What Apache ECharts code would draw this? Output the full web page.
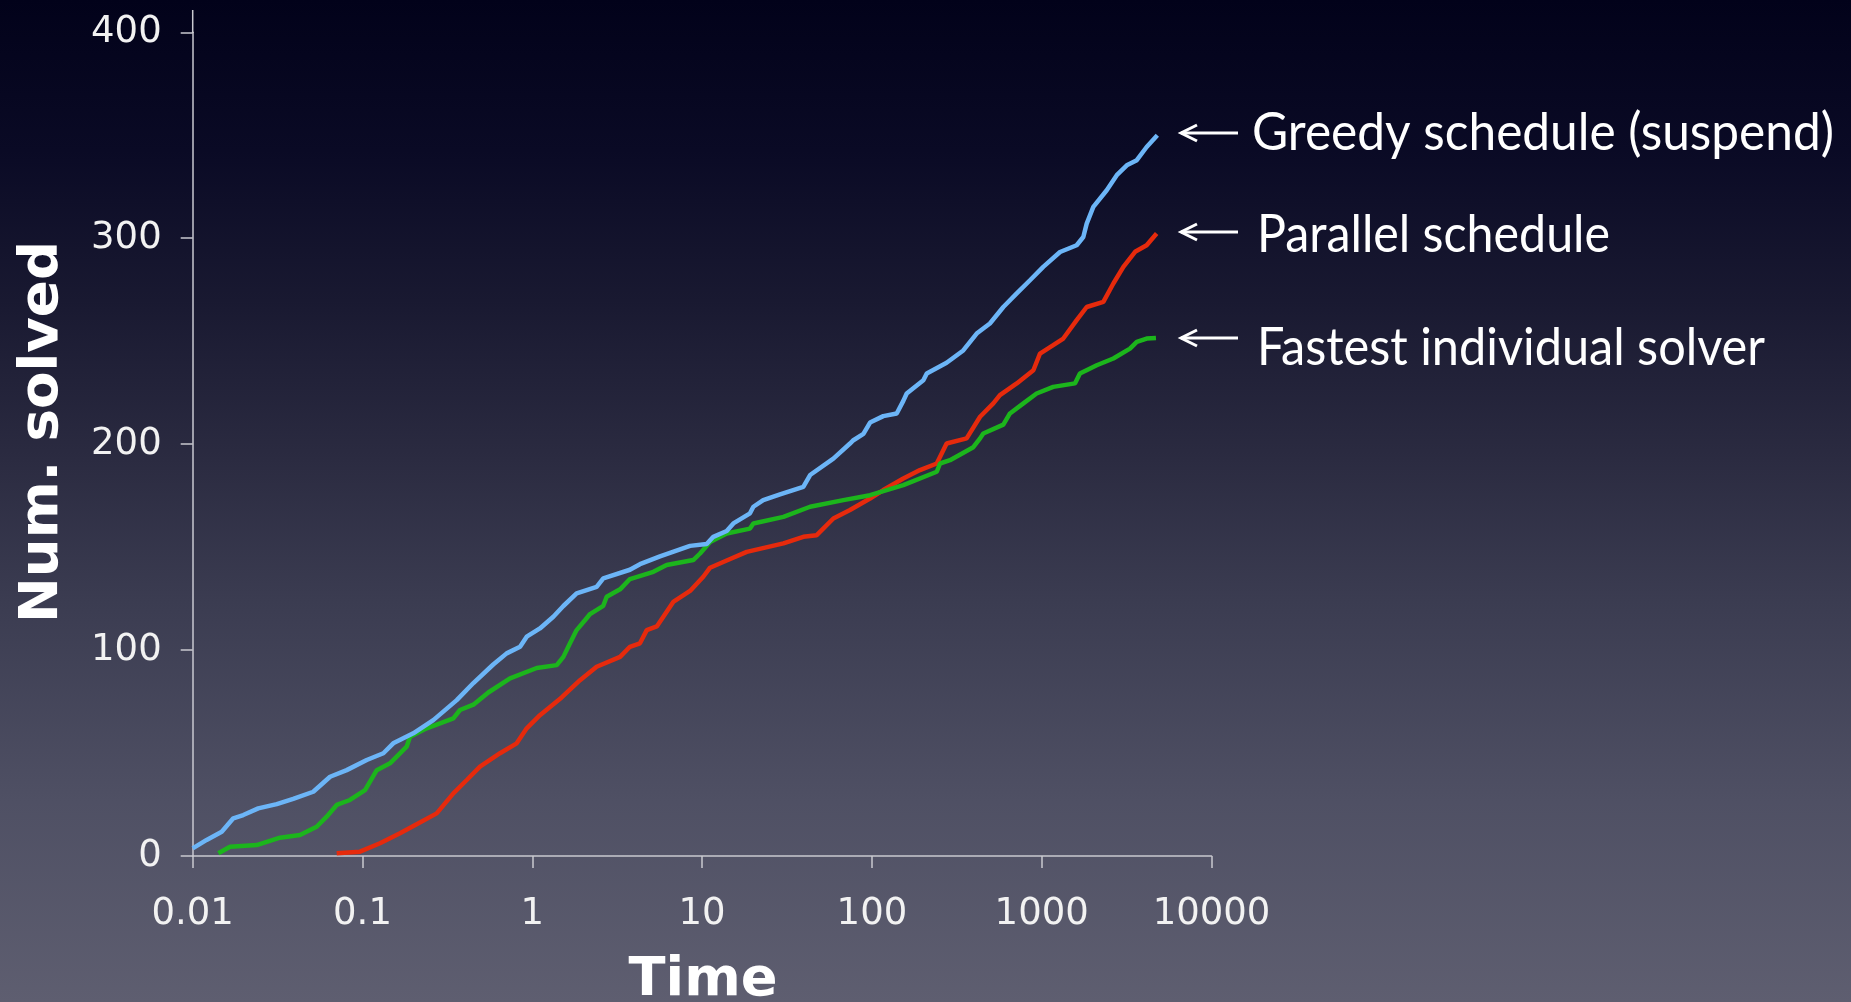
<!DOCTYPE html>
<html>
<head>
<meta charset="utf-8">
<script src="https://cdn.jsdelivr.net/npm/echarts@6/dist/echarts.min.js"></script>
<style>
html,body{margin:0;padding:0;width:1851px;height:1002px;overflow:hidden;background:#2a2a40;}
#chart{width:1851px;height:1002px;}
</style>
</head>
<body>
<div id="chart"></div>
<script>
// ---- data (time in seconds, number solved) ----
const xTickLabels = ['0.01', '0.1', '1', '10', '100', '1000', '10000'];
const yTickLabels = ['0', '100', '200', '300', '400'];
const seriesNames = ['Greedy schedule (suspend)', 'Parallel schedule', 'Fastest individual solver'];

const greedyT = [0.0100, 0.01208, 0.01483, 0.01734, 0.01986, 0.02432, 0.03126, 0.03908, 0.05129, 0.06442,
  0.08072, 0.1059, 0.1327, 0.1517, 0.1991, 0.2612, 0.3589, 0.4498, 0.5888, 0.7063,
  0.8472, 0.9268, 1.109, 1.330, 1.524, 1.824, 2.393, 2.618, 3.758, 4.305,
  5.649, 8.492, 10.64, 11.64, 13.96, 15.28, 19.14, 20.04, 22.91, 28.77,
  39.45, 43.25, 59.29, 74.30, 77.80, 89.13, 97.50, 116.7, 140.0, 153.1,
  160.3, 200.9, 210.4, 275.4, 345.1, 414.0, 495.5, 594.3, 712.8, 853.1,
  1021, 1282, 1607, 1758, 1841, 2014, 2415, 2767, 3170, 3631, 4150, 4797];
const greedyN = [3.7, 7.8, 11.8, 18.3, 19.9, 23.1, 25.2, 27.7, 31.2, 38.5,
  41.7, 46.6, 49.9, 54.7, 59.6, 66.0, 75.7, 84.0, 93.0, 98.4,
  101.6, 106.5, 110.5, 116.2, 121.4, 127.5, 130.7, 134.8, 139.0, 141.7,
  145.5, 150.6, 151.5, 155.0, 157.8, 161.5, 166.4, 169.6, 172.8, 175.6,
  179.3, 185.0, 193.0, 200.3, 201.9, 205.0, 210.5, 213.6, 214.9, 221.0,
  224.6, 231.0, 234.3, 239.5, 245.5, 253.7, 258.6, 266.6, 273.2, 279.6,
  286.1, 293.3, 296.6, 300.6, 307.1, 315.2, 323.3, 330.6, 335.4, 337.9, 344.3, 350.0];

const parallelT = [0.07047, 0.09661, 0.1268, 0.1663, 0.2084, 0.2735, 0.3428, 0.4111, 0.4920, 0.6457,
  0.8091, 0.9268, 1.109, 1.489, 1.910, 2.393, 3.289, 3.758, 4.305, 4.721,
  5.408, 6.761, 8.492, 10.16, 11.14, 13.96, 18.32, 30.13, 39.45, 47.32,
  59.29, 74.30, 97.50, 116.7, 153.1, 191.9, 241.0, 275.4, 361.4, 433.5,
  518.8, 567.5, 712.8, 893.3, 977.2, 1169, 1340, 1607, 1841, 2307,
  2642, 3027, 3548, 4150, 4753];
const parallelN = [1.3, 2.1, 6.2, 11.0, 15.4, 20.7, 30.4, 36.9, 43.4, 49.9,
  54.7, 62.0, 68.4, 77.0, 85.4, 91.9, 96.7, 101.6, 103.3, 109.7,
  111.5, 123.4, 128.7, 135.6, 140.0, 143.5, 147.7, 151.8, 155.0, 155.8,
  163.9, 168.0, 173.6, 177.7, 183.3, 187.4, 190.6, 200.3, 202.8, 213.3,
  219.8, 223.8, 229.5, 235.9, 244.0, 248.1, 251.3, 260.2, 266.6, 269.1,
  278.0, 286.1, 293.4, 296.6, 302.3];

const fastestT = [0.01416, 0.01660, 0.02382, 0.03266, 0.04285, 0.05370, 0.06152, 0.07047, 0.08433, 0.1035,
  0.1213, 0.1452, 0.1820, 0.1905, 0.2388, 0.3428, 0.3750, 0.4498, 0.5508, 0.7396,
  1.062, 1.393, 1.524, 1.667, 1.824, 2.042, 2.188, 2.618, 2.742, 3.289,
  3.758, 5.164, 6.180, 8.872, 9.727, 11.14, 13.96, 19.14, 20.04, 30.13,
  43.25, 67.92, 97.50, 153.1, 241.0, 251.8, 288.4, 395.4, 433.5, 452.9,
  594.3, 650.1, 779.8, 933.3, 1169, 1570, 1679, 2109, 2642, 3311,
  3631, 4150, 4710];
const fastestN = [1.3, 4.5, 5.3, 8.9, 10.2, 14.2, 19.1, 24.8, 27.2, 32.0,
  41.7, 45.0, 53.1, 57.9, 62.0, 66.8, 70.9, 73.5, 79.4, 86.3,
  91.3, 92.7, 96.7, 103.3, 109.7, 114.5, 117.5, 121.5, 125.9, 129.5,
  134.5, 138.0, 141.3, 143.7, 146.9, 152.5, 156.6, 159.0, 161.5, 164.7,
  169.6, 172.8, 175.2, 180.1, 186.6, 190.6, 192.2, 198.5, 202.8, 205.2,
  209.5, 214.9, 219.8, 224.6, 227.8, 229.5, 234.3, 238.3, 241.6, 246.4,
  249.7, 251.3, 251.6];

const pairs = (t, n) => t.map((v, i) => [v, n[i]]);

// ---- text fitting helper ----
const mctx = document.createElement('canvas').getContext('2d');
function fit(text, weight, size, family, target) {
  mctx.font = weight + ' ' + size + 'px ' + family;
  return target / mctx.measureText(text).width;
}

const LBL_FONT = 'Lato';
const LBL_SIZE = 52;
const labelLeft = [1252, 1257, 1257];
const labelTargets = [582, 353, 508];
const labelBaselines = [148, 250, 363];
const arrowY = [133, 232, 338];

const chart = echarts.init(document.getElementById('chart'), null, {renderer: 'canvas'});

const graphics = [];
// extension of the y axis line above 400
graphics.push({type: 'line', shape: {x1: 192.7, y1: 10, x2: 192.7, y2: 33}, style: {stroke: '#c9c9d0', lineWidth: 1.5}, silent: true});

seriesNames.forEach((name, i) => {
  const s = fit(name, 'normal', LBL_SIZE, LBL_FONT, labelTargets[i]);
  graphics.push({
    type: 'text', x: labelLeft[i], y: labelBaselines[i] - 15, scaleX: s, scaleY: 1,
    style: {text: name, fill: '#ffffff', fontFamily: LBL_FONT, fontSize: LBL_SIZE, align: 'left', verticalAlign: 'middle'}
  });
  const y = arrowY[i];
  graphics.push({type: 'line', shape: {x1: 1181, y1: y, x2: 1238, y2: y}, style: {stroke: '#ffffff', lineWidth: 3}});
  graphics.push({type: 'polyline', shape: {points: [[1197, y - 8], [1181, y], [1197, y + 8]]}, style: {stroke: '#ffffff', lineWidth: 3, fill: null, lineJoin: 'miter'}});
});

// axis titles
const ySize = 53;
graphics.push({
  type: 'text', x: 43, y: 432, rotation: Math.PI / 2,
  scaleX: fit('Num. solved', 'bold', ySize, 'DejaVu Sans', 382), scaleY: 1,
  style: {text: 'Num. solved', fill: '#ffffff', fontFamily: 'DejaVu Sans', fontWeight: 'bold', fontSize: ySize, align: 'center', verticalAlign: 'middle'}
});
const tSize = 54;
graphics.push({
  type: 'text', x: 703, y: 1000 - 0.346 * tSize,
  scaleX: fit('Time', 'bold', tSize, 'DejaVu Sans', 149), scaleY: 1,
  style: {text: 'Time', fill: '#ffffff', fontFamily: 'DejaVu Sans', fontWeight: 'bold', fontSize: tSize, align: 'center', verticalAlign: 'middle'}
});

const axisLineStyle = {color: '#c9c9d0', width: 1.5};
const option = {
  animation: false,
  backgroundColor: {
    type: 'linear', x: 0, y: 0, x2: 0, y2: 1,
    colorStops: [
      {offset: 0, color: '#02021a'},
      {offset: 0.15, color: '#0a0a25'},
      {offset: 0.3, color: '#191931'},
      {offset: 0.45, color: '#2a2a40'},
      {offset: 0.6, color: '#3b3c51'},
      {offset: 0.8, color: '#4f5064'},
      {offset: 1, color: '#5e5e70'}
    ]
  },
  grid: {left: 192.7, right: 1851 - 1211.5, top: 32.3, bottom: 1002 - 856, containLabel: false, outerBoundsMode: 'none'},
  xAxis: {
    type: 'log', logBase: 10, min: 0.01, max: 10000, splitNumber: 6,
    axisLine: {show: true, lineStyle: axisLineStyle},
    axisTick: {show: true, length: 12, inside: false, lineStyle: axisLineStyle},
    minorTick: {show: false},
    splitLine: {show: false},
    axisLabel: {
      show: true, margin: 40, color: '#f2f2f2', fontFamily: 'DejaVu Sans', fontSize: 37,
      formatter: v => xTickLabels[Math.round(Math.log10(v)) + 2],
      showMinLabel: true, showMaxLabel: true
    }
  },
  yAxis: {
    type: 'value', min: 0, max: 400, interval: 100,
    axisLine: {show: true, lineStyle: axisLineStyle},
    axisTick: {show: true, length: 12, inside: false, lineStyle: axisLineStyle},
    splitLine: {show: false},
    axisLabel: {
      show: true, margin: 31, color: '#f2f2f2', fontFamily: 'DejaVu Sans', fontSize: 37,
      padding: [10, 0, 0, 0],
      formatter: v => yTickLabels[Math.round(v / 100)]
    }
  },
  series: [
    {name: seriesNames[0], type: 'line', data: pairs(greedyT, greedyN), showSymbol: false, symbol: 'none',
      lineStyle: {color: '#6cb5f7', width: 4.5}, itemStyle: {color: '#6cb5f7'}, z: 3},
    {name: seriesNames[1], type: 'line', data: pairs(parallelT, parallelN), showSymbol: false, symbol: 'none',
      lineStyle: {color: '#e62a0c', width: 4.5}, itemStyle: {color: '#e62a0c'}, z: 2},
    {name: seriesNames[2], type: 'line', data: pairs(fastestT, fastestN), showSymbol: false, symbol: 'none',
      lineStyle: {color: '#1cb51c', width: 4.5}, itemStyle: {color: '#1cb51c'}, z: 2}
  ],
  graphic: graphics
};
chart.setOption(option);
</script>
</body>
</html>
